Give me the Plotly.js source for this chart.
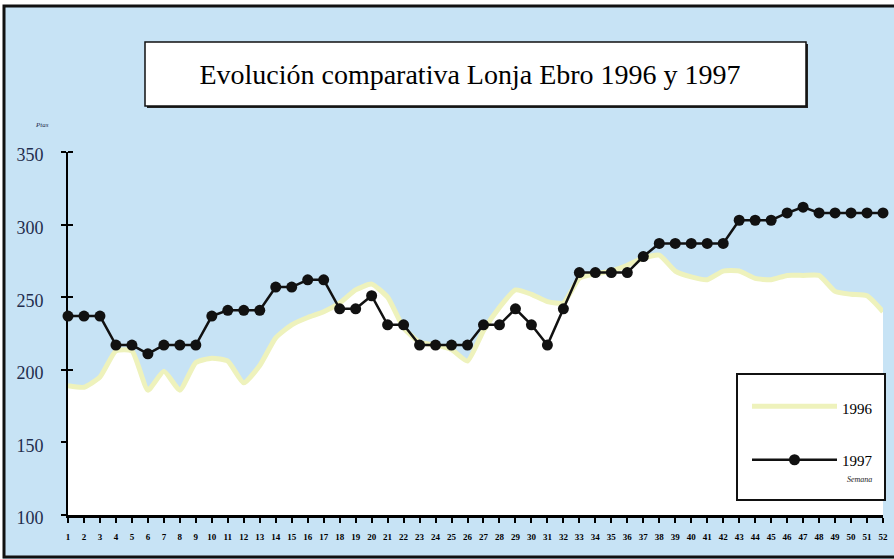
<!DOCTYPE html>
<html>
<head>
<meta charset="utf-8">
<script src="https://cdn.plot.ly/plotly-3.0.1.min.js"></script>
<style>
  html, body { margin: 0; padding: 0; background: #ffffff; }
  #chart { width: 894px; height: 559px; }
</style>
</head>
<body>
<div id="chart"></div>
<script>
// Weeks (Semana)
const weeks = Array.from({length: 52}, (_, i) => i + 1);
const weekLabels = weeks.map(String);

// 1996 prices (Ptas) - read from the white area
const prices1996 = [189, 188, 195, 213, 213, 186, 199, 186, 205, 208,
                    206, 191, 203, 222, 231, 236, 240, 246, 255, 259,
                    250, 229, 219, 217, 214, 206, 227, 243, 255, 252,
                    247, 246, 263, 266, 268, 272, 277, 279, 268, 264,
                    262, 268, 268, 263, 262, 265, 265, 265, 254, 252,
                    251, 240];

// 1997 prices (Ptas) - black line with dots
const prices1997 = [237, 237, 237, 217, 217, 211, 217, 217, 217, 237,
                    241, 241, 241, 257, 257, 262, 262, 242, 242, 251,
                    231, 231, 217, 217, 217, 217, 231, 231, 242, 231,
                    217, 242, 267, 267, 267, 267, 278, 287, 287, 287,
                    287, 287, 303, 303, 303, 308, 312, 308, 308, 308,
                    308, 308];

const yTicks = [100, 150, 200, 250, 300, 350];

// pixel helpers for layout decorations (plot area: x 68..883, y 152..515)
const PL = 68, PR = 883, PT = 152, PB = 515;
const px = v => (v - PL) / (PR - PL);
const py = v => (PB - v) / (PB - PT);

const SERIF = '"Liberation Serif", "Times New Roman", Times, serif';

const trace1996 = {
  x: weeks, y: prices1996, name: '1996',
  type: 'scatter', mode: 'lines',
  line: {color: '#eef2bc', width: 5, shape: 'spline', smoothing: 0.5},
  fill: 'tozeroy', fillcolor: '#ffffff',
  legendgroup: 'a'
};
const trace1997 = {
  x: weeks, y: prices1997, name: '1997',
  type: 'scatter', mode: 'lines+markers',
  line: {color: '#111111', width: 2.5},
  marker: {color: '#111111', size: 11},
  cliponaxis: false, legendgroup: 'b'
};

const BG = '#c7e3f5';

const layout = {
  width: 894, height: 559,
  margin: {l: PL, r: 894 - PR, t: PT, b: 559 - PB, pad: 0},
  paper_bgcolor: '#ffffff',
  plot_bgcolor: 'rgba(0,0,0,0)',
  font: {family: SERIF, color: '#000'},
  title: {
    text: 'Evolución comparativa Lonja Ebro 1996 y 1997',
    font: {family: SERIF, size: 28, color: '#000'},
    xref: 'paper', x: px(470), xanchor: 'center',
    yref: 'container', y: 1 - 74 / 559, yanchor: 'middle'
  },
  xaxis: {
    range: [1, 52], showgrid: false, zeroline: false,
    showline: true, linecolor: '#000', linewidth: 2.5,
    tickmode: 'array', tickvals: weeks, ticktext: weekLabels,
    ticks: 'outside', ticklen: 5, tickwidth: 2, tickcolor: '#000',
    tickfont: {family: SERIF, size: 9, color: '#000', weight: 'bold'},
    ticklabelstandoff: 7, fixedrange: true
  },
  yaxis: {
    range: [100, 350], showgrid: false, zeroline: false,
    showline: true, linecolor: '#000', linewidth: 2,
    tickmode: 'array', tickvals: yTicks,
    ticks: 'outside', ticklen: 5, tickwidth: 2, tickcolor: '#000',
    minor: {tickmode: 'array', tickvals: yTicks, ticks: 'inside', ticklen: 5, tickwidth: 2, tickcolor: '#000'},
    tickfont: {family: SERIF, size: 18, color: '#1f2d4d'},
    ticklabelstandoff: 14, ticklabelshift: 3,
    layer: 'below traces', fixedrange: true
  },
  showlegend: true,
  legend: {
    x: px(747), y: py(392), xanchor: 'left', yanchor: 'top',
    bgcolor: 'rgba(0,0,0,0)', borderwidth: 0,
    itemwidth: 85, traceorder: 'grouped', tracegroupgap: 29,
    font: {family: SERIF, size: 15, color: '#000'}
  },
  shapes: [
    // light blue panel
    {type: 'rect', xref: 'paper', yref: 'paper', layer: 'below',
     x0: px(3), x1: px(900), y0: py(560), y1: py(5),
     fillcolor: BG, line: {width: 0}},
    // frame
    {type: 'rect', xref: 'paper', yref: 'paper', layer: 'above',
     x0: px(4), x1: px(900), y0: py(557), y1: py(6),
     fillcolor: 'rgba(0,0,0,0)', line: {color: '#111', width: 3}},
    // title box shadow
    {type: 'rect', xref: 'paper', yref: 'paper', layer: 'below',
     x0: px(147), x1: px(808), y0: py(108), y1: py(44),
     fillcolor: '#222', line: {width: 0}},
    // title box
    {type: 'rect', xref: 'paper', yref: 'paper', layer: 'below',
     x0: px(145), x1: px(806), y0: py(106), y1: py(42),
     fillcolor: '#ffffff', line: {color: '#111', width: 1.5}},
    // legend box
    {type: 'rect', xref: 'paper', yref: 'paper', layer: 'above',
     x0: px(737), x1: px(885), y0: py(500), y1: py(374),
     fillcolor: '#ffffff', line: {color: '#111', width: 2}}
  ],
  annotations: [
    {text: 'Ptas', xref: 'paper', yref: 'paper', x: px(33), y: py(119),
     showarrow: false, font: {family: SERIF, size: 7, style: 'italic', color: '#1f2d4d'}},
    {text: 'Semana', xref: 'paper', yref: 'paper', x: px(845), y: py(486),
     xanchor: 'left', showarrow: false,
     font: {family: SERIF, size: 8, style: 'italic', color: '#222'}}
  ]
};

Plotly.newPlot('chart', [trace1996, trace1997], layout, {displayModeBar: false, staticPlot: true});
</script>
</body>
</html>
